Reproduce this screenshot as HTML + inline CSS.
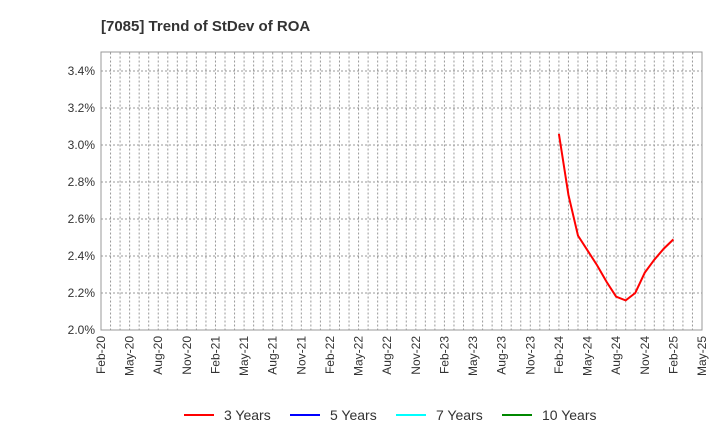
<!DOCTYPE html>
<html><head><meta charset="utf-8"><style>
body{margin:0;background:#fff;font-family:"Liberation Sans",sans-serif;}
</style></head><body>
<svg width="720" height="440" xmlns="http://www.w3.org/2000/svg" id="c">
<text x="101" y="31" font-size="15" font-weight="bold" fill="#333">[7085]  Trend of StDev of ROA</text>
<rect x="101" y="52" width="601" height="278" fill="#fff" stroke="#999"/>
<g id="grid"></g><g id="axes"></g><g id="series"></g>
<g id="legend" font-size="14" fill="#333"></g>
</svg>
<script>
const xLabels=["Feb-20","May-20","Aug-20","Nov-20","Feb-21","May-21","Aug-21","Nov-21","Feb-22","May-22","Aug-22","Nov-22","Feb-23","May-23","Aug-23","Nov-23","Feb-24","May-24","Aug-24","Nov-24","Feb-25","May-25"];
const yTicks=[2.0,2.2,2.4,2.6,2.8,3.0,3.2,3.4];
const months3y=[48,49,50,51,52,53,54,55,56,57,58,59,60];
const values3y=[3.06,2.73,2.51,2.43,2.35,2.26,2.18,2.16,2.20,2.31,2.38,2.44,2.49];
const NS="http://www.w3.org/2000/svg";
const X0=101,X1=702,Y0=330,Y1=52.5;
const xs=m=>X0+(X1-X0)*m/63;
const ys=v=>Y0-(v-2.0)/(3.5-2.0)*(Y0-Y1);
function mk(t,a,p){const e=document.createElementNS(NS,t);for(const k in a)e.setAttribute(k,a[k]);p.appendChild(e);return e;}
const g=document.getElementById('grid'),ax=document.getElementById('axes'),se=document.getElementById('series'),lg=document.getElementById('legend');
for(let m=1;m<63;m++){const l=mk('line',{x1:xs(m),x2:xs(m),y1:Y1,y2:Y0,stroke:'#999','stroke-dasharray':'2,2'},g);

}
yTicks.forEach(v=>{const y=ys(v);
if(v>2.0){const l=mk('line',{x1:X0,x2:X1,y1:y,y2:y,stroke:'#999','stroke-dasharray':'2,2'},g);

}
const t=mk('text',{x:X0-6,y:y+4,'text-anchor':'end','font-size':12,fill:'#333'},ax);t.textContent=v.toFixed(1)+'%';

});
xLabels.forEach((s,i)=>{const x=xs(i*3);
const t=mk('text',{transform:`translate(${x+4},${Y0+6}) rotate(-90)`,'text-anchor':'end','font-size':12,fill:'#333'},ax);t.textContent=s;

});
const p=mk('polyline',{points:months3y.map((m,i)=>xs(m)+','+ys(values3y[i])).join(' '),fill:'none',stroke:'#f00','stroke-width':2},se);


const leg=[["3 Years","#f00",184],["5 Years","#00f",290],["7 Years","#0ff",396],["10 Years","#080",502]];
leg.forEach(([n,c,x])=>{const gg=mk('g',{},lg);


mk('line',{x1:x,x2:x+30,y1:415,y2:415,stroke:c,'stroke-width':2},gg);
const t=mk('text',{x:x+40,y:420},gg);t.textContent=n;});
</script>
</body></html>
